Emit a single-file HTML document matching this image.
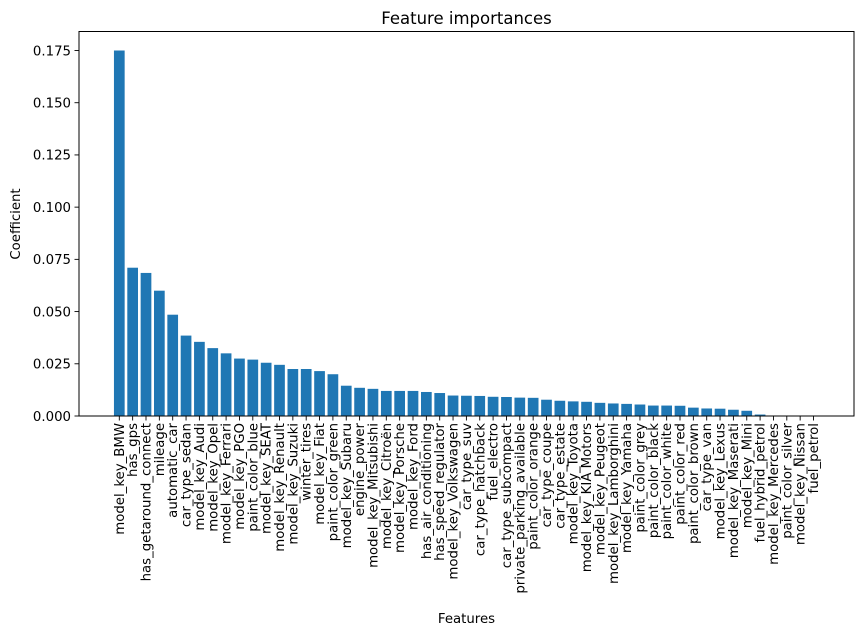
<!DOCTYPE html>
<html><head><meta charset="utf-8"><style>
body{margin:0;background:#fff}
svg text{font-family:"DejaVu Sans","Liberation Sans",sans-serif;fill:#000}
</style></head><body>
<svg id="chart" width="863" height="635" xmlns="http://www.w3.org/2000/svg">
<rect width="863" height="635" fill="#fff"/>
<text x="466.5" y="24" font-size="16.5" text-anchor="middle">Feature importances</text>
<g id="plot"></g>
<text x="466.5" y="623" font-size="13.3" text-anchor="middle">Features</text>
<text transform="translate(20,224) rotate(-90)" font-size="13.3" text-anchor="middle">Coefficient</text>
</svg>
<script>
const categories = ["model_key_BMW","has_gps","has_getaround_connect","mileage","automatic_car","car_type_sedan","model_key_Audi","model_key_Opel","model_key_Ferrari","model_key_PGO","paint_color_blue","model_key_SEAT","model_key_Renault","model_key_Suzuki","winter_tires","model_key_Fiat","paint_color_green","model_key_Subaru","engine_power","model_key_Mitsubishi","model_key_Citroën","model_key_Porsche","model_key_Ford","has_air_conditioning","has_speed_regulator","model_key_Volkswagen","car_type_suv","car_type_hatchback","fuel_electro","car_type_subcompact","private_parking_available","paint_color_orange","car_type_coupe","car_type_estate","model_key_Toyota","model_key_KIA Motors","model_key_Peugeot","model_key_Lamborghini","model_key_Yamaha","paint_color_grey","paint_color_black","paint_color_white","paint_color_red","paint_color_brown","car_type_van","model_key_Lexus","model_key_Maserati","model_key_Mini","fuel_hybrid_petrol","model_key_Mercedes","paint_color_silver","model_key_Nissan","fuel_petrol"];
const values = [0.175,0.071,0.0685,0.060,0.0485,0.0385,0.0355,0.0325,0.030,0.0275,0.027,0.0255,0.0245,0.0225,0.0225,0.0215,0.020,0.0145,0.0135,0.013,0.012,0.012,0.012,0.0115,0.011,0.0098,0.0097,0.0096,0.0092,0.0091,0.0088,0.0087,0.0078,0.0073,0.007,0.0068,0.0063,0.006,0.0058,0.0055,0.005,0.005,0.0049,0.004,0.0036,0.0035,0.003,0.0025,0.0007,0.0002,0.0001,0.0001,0];
const yTicks = [0,0.025,0.05,0.075,0.1,0.125,0.15,0.175];
const yTickLabels = ["0.000","0.025","0.050","0.075","0.100","0.125","0.150","0.175"];

const NS="http://www.w3.org/2000/svg";
const L=79,R=854,T=31.5,B=416;
const x0=119.3, step=13.35, bw=10.7;
function xs(i){return x0+i*step;}
function ys(v){return B-v*(B-50.5)/0.175;}
const g=document.getElementById('plot');
function mk(tag,attrs){const e=document.createElementNS(NS,tag);for(const k in attrs)e.setAttribute(k,attrs[k]);g.appendChild(e);return e;}
values.forEach((v,i)=>{
  const r=mk('rect',{x:xs(i)-bw/2,y:ys(v),width:bw,height:B-ys(v),fill:'#1f77b4'});
  
  
  const t=mk('line',{x1:xs(i),x2:xs(i),y1:B,y2:B+4.5,stroke:'#000','stroke-width':0.9});
  
  
  const lb=mk('text',{transform:`translate(${xs(i)+4.5},${B+7}) rotate(-90)`,'font-size':13.3,'text-anchor':'end'});
  lb.textContent=categories[i];
  
  
});
yTicks.forEach((v,i)=>{
  const t=mk('line',{x1:L-4.5,x2:L,y1:ys(v),y2:ys(v),stroke:'#000','stroke-width':0.9});
  
  
  const lb=mk('text',{x:L-8,y:ys(v)+4.8,'font-size':13.3,'text-anchor':'end'});
  lb.textContent=yTickLabels[i];
  
  
});
const fr=mk('rect',{x:L,y:T,width:R-L,height:B-T,fill:'none',stroke:'#000','stroke-width':1});


</script>
</body></html>
